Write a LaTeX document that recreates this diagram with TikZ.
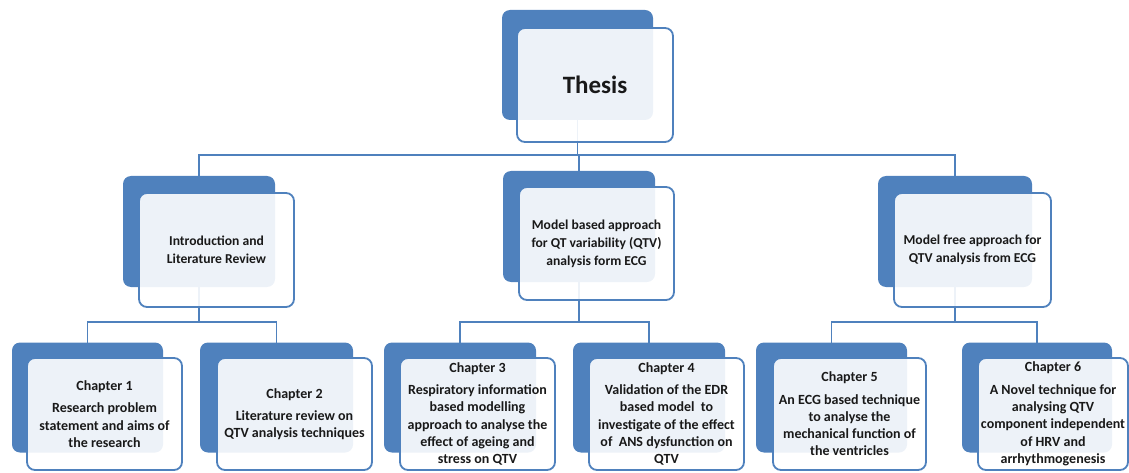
\documentclass[tikz,border=0pt]{standalone}
\usepackage{fontspec}
\setmainfont{Carlito}
\pgfdeclarelayer{bg}
\pgfsetlayers{bg,main}
\definecolor{ofblue}{RGB}{79,129,189}
\definecolor{txt}{RGB}{25,25,25}
\tikzset{
  backbox/.style={fill=ofblue, draw=none, rounded corners=8pt, minimum width=152pt, minimum height=110pt, inner sep=0pt},
  frontbox/.style={draw=ofblue, line width=1.8pt, fill=white, fill opacity=0.9, text opacity=1, rounded corners=8pt, minimum width=155pt, minimum height=113pt, inner sep=0pt, align=center, text=txt, font=\bfseries\fontsize{14}{17.3}\selectfont},
  midtext/.style={font=\bfseries\fontsize{13.6}{18}\selectfont},
  conn/.style={draw=ofblue, line width=1.8pt}
}
\begin{document}
\begin{tikzpicture}[x=1pt,y=-1pt]
\useasboundingbox (0,0) rectangle (1129,473);
% level 1
\node[backbox, minimum width=151pt] (thesisB) at (577.5,65) {};
\node[frontbox, minimum width=156pt, minimum height=114pt, font=\bfseries\fontsize{25}{30}\selectfont] (thesisF) at (595,85) {Thesis};
% level 2
\node[backbox, minimum height=111pt] (introB) at (199,231.5) {};
\node[frontbox, midtext, minimum height=114pt] (introF) at (216.5,250) {Introduction and\\Literature Review};
\node[backbox, minimum height=111pt] (modelbB) at (579,226.5) {};
\node[frontbox, midtext] (modelbF) at (596.5,243.5) {Model based approach\\for QT variability (QTV)\\analysis form ECG};
\node[backbox, minimum width=154pt, minimum height=111pt] (modelfB) at (955,231.5) {};
\node[frontbox, midtext, minimum width=157pt, minimum height=114pt] (modelfF) at (972.5,250) {Model free approach for\\QTV analysis from ECG};
% level 3
\node[backbox, minimum width=151pt] (ch1B) at (87.5,397.5) {};
\node[frontbox, minimum height=112pt] (ch1F) at (104.5,414) {Chapter 1\\[5pt]Research problem\\statement and aims of\\the research};
\node[backbox, minimum width=153pt] (ch2B) at (276.5,397.5) {};
\node[frontbox, minimum height=112pt] (ch2F) at (294.5,414) {Chapter 2\\[5pt]Literature review on\\QTV analysis techniques};
\node[backbox] (ch3B) at (460,397.5) {};
\node[frontbox, minimum height=112pt] (ch3F) at (477.5,414) {Chapter 3\\[5pt]Respiratory information\\based modelling\\approach to analyse the\\effect of ageing and\\stress on QTV};
\node[backbox] (ch4B) at (649,397.5) {};
\node[frontbox, minimum height=112pt] (ch4F) at (666.5,414) {Chapter 4\\[5pt]Validation of the EDR\\based model\ \ to\\investigate of the effect\\of\ \ ANS dysfunction on\\QTV};
\node[backbox, minimum width=151pt] (ch5B) at (831.5,397.5) {};
\node[frontbox, minimum width=153pt, minimum height=112pt] (ch5F) at (849.5,414) {Chapter 5\\[5pt]An ECG based technique\\to analyse the\\mechanical function of\\the ventricles};
\node[backbox, minimum width=150pt] (ch6B) at (1037,397.5) {};
\node[frontbox, minimum width=150pt, minimum height=112pt] (ch6F) at (1053,414) {Chapter 6\\[5pt]A Novel technique for\\analysing QTV\\component independent\\of HRV and\\arrhythmogenesis};
% connectors
\begin{pgfonlayer}{bg}
\coordinate (bus1) at (0,155);
\coordinate (bus2) at (0,322);
\draw[conn] (thesisB.center) -- (thesisB.center |- bus1) -| (introB.center);
\draw[conn] (thesisB.center |- bus1) -| (modelbB.center);
\draw[conn] (thesisB.center |- bus1) -| (modelfB.center);
\draw[conn] (introB.center) -- (introB.center |- bus2) -| (ch1B.center);
\draw[conn] (introB.center |- bus2) -| (ch2B.center);
\draw[conn] (modelbB.center) -- (modelbB.center |- bus2) -| (ch3B.center);
\draw[conn] (modelbB.center |- bus2) -| (ch4B.center);
\draw[conn] (modelfB.center) -- (modelfB.center |- bus2) -| (ch5B.center);
\draw[conn] (modelfB.center |- bus2) -| (ch6B.center);
\end{pgfonlayer}
\end{tikzpicture}
\end{document}
